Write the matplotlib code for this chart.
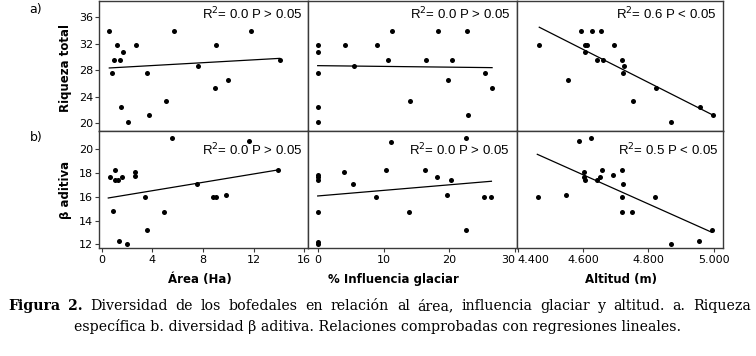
import matplotlib
matplotlib.use("Agg")
import matplotlib.pyplot as plt

# ---- data ----
# row a) riqueza total
area_a_x = [0.60, 1.18, 2.73, 1.71, 1.00, 1.42, 5.69, 0.84, 3.58, 5.06, 1.52, 3.71, 2.10,
            11.79, 9.03, 7.63, 14.06, 9.98, 8.93]
area_a_y = [33.9, 31.8, 31.8, 30.7, 29.6, 29.6, 33.9, 27.6, 27.6, 23.3, 22.4, 21.3, 20.2,
            33.9, 31.8, 28.6, 29.6, 26.5, 25.4]
glac_a_x = [0, 0, 4.15, 8.97, 0, 5.56, 0, 0, 11.34, 18.33, 22.69, 10.64, 16.46, 20.36,
            25.38, 19.8, 26.49, 14.03, 22.8]
glac_a_y = [31.8, 30.7, 31.8, 31.8, 27.6, 28.6, 22.4, 20.2, 33.9, 33.9, 33.9, 29.6, 29.6,
            29.6, 27.6, 26.5, 25.4, 23.3, 21.3]
alt_a_x = [4466, 4593, 4627, 4655, 4605, 4611, 4607, 4644, 4662, 4696, 4720, 4726, 4723,
           4553, 4824, 4754, 4958, 4999, 4870]
alt_a_y = [31.8, 33.9, 33.9, 33.9, 31.8, 31.8, 30.7, 29.6, 29.6, 31.8, 29.6, 28.7, 27.6,
           26.5, 25.4, 23.3, 22.4, 21.3, 20.2]

# row b) beta aditiva
area_b_x = [0.65, 1.05, 1.05, 1.31, 1.58, 2.61, 2.61, 0.87, 3.44, 4.92, 3.58, 1.39, 2.00,
            5.55, 7.55, 13.90, 8.77, 9.00, 9.84, 11.66]
area_b_y = [17.69, 18.28, 17.41, 17.41, 17.64, 18.11, 17.75, 14.78, 15.98, 14.72, 13.23,
            12.28, 12.03, 20.95, 17.05, 18.26, 16.0, 16.0, 16.15, 20.7]
glac_b_x = [0, 0, 0, 0, 0, 0, 4.0, 5.32, 8.86, 11.1, 10.44, 16.3, 18.2, 20.2, 19.7, 22.5,
            13.9, 22.6, 25.2, 26.3]
glac_b_y = [17.84, 17.64, 17.41, 14.75, 12.22, 12.03, 18.11, 17.08, 16.0, 20.64, 18.26,
            18.26, 17.67, 17.41, 16.15, 20.95, 14.75, 13.23, 16.0, 16.0]
alt_b_x = [4463, 4548, 4589, 4624, 4603, 4603, 4606, 4642, 4652, 4658, 4693, 4719, 4723,
           4720, 4720, 4751, 4821, 4868, 4955, 4996]
alt_b_y = [16.0, 16.15, 20.67, 20.98, 18.11, 17.69, 17.41, 17.41, 17.69, 18.26, 17.81,
           18.26, 17.08, 16.0, 14.75, 14.75, 16.0, 12.03, 12.25, 13.23]

# fitted lines (end points)
fit_area_a = ([0.6, 14.06], [28.35, 29.8])
fit_glac_a = ([0, 26.5], [28.7, 28.4])
fit_alt_a = ([4466, 4999], [34.5, 21.2])
fit_area_b = ([0.52, 13.9], [15.9, 18.26])
fit_glac_b = ([0, 26.4], [16.07, 17.31])
fit_alt_b = ([4460, 4994], [19.58, 13.01])

stats_a = ["R$^2$= 0.0 P > 0.05", "R$^2$= 0.0 P > 0.05", "R$^2$= 0.6 P < 0.05"]
stats_b = ["R$^2$= 0.0 P > 0.05", "R$^2$= 0.0 P > 0.05", "R$^2$= 0.5 P < 0.05"]

W, H = 756, 356
fig = plt.figure(figsize=(W / 100, H / 100), dpi=100)

col_px = [(99.3, 307.7), (307.7, 516.5), (516.5, 723.3)]
row_px = [(1.0, 130.7), (130.7, 248.3)]
xlims = [(-0.19, 16.27), (-1.52, 30.21), (4396.3, 5029.3)]
ylims = [(18.88, 38.46), (11.66, 21.57)]

panels = [
    [(area_a_x, area_a_y, fit_area_a), (glac_a_x, glac_a_y, fit_glac_a), (alt_a_x, alt_a_y, fit_alt_a)],
    [(area_b_x, area_b_y, fit_area_b), (glac_b_x, glac_b_y, fit_glac_b), (alt_b_x, alt_b_y, fit_alt_b)],
]
stats = [stats_a, stats_b]
stat_y = [14, 150]
stat_right = [[302.7, 511, 716.7], [302.7, 510, 719]]

spine_c = "#3a3a3a"
for r in range(2):
    for c in range(3):
        x0, x1 = col_px[c]
        y0, y1 = row_px[r]
        ax = fig.add_axes([x0 / W, 1 - y1 / H, (x1 - x0) / W, (y1 - y0) / H])
        px, py, fit = panels[r][c]
        ax.scatter(px, py, s=13, color="black", zorder=3, linewidths=0)
        ax.plot(fit[0], fit[1], color="black", lw=0.9)
        ax.set_xlim(*xlims[c])
        ax.set_ylim(*ylims[r])
        for s in ax.spines.values():
            s.set_color(spine_c)
            s.set_linewidth(1.0)
        ax.tick_params(direction="out", length=3, width=0.8, color=spine_c,
                       labelsize=8, pad=1.5)
        if c == 0:
            if r == 0:
                ax.set_yticks([20, 24, 28, 32, 36])
            else:
                ax.set_yticks([12, 14, 16, 18, 20])
        else:
            ax.set_yticks([])
        if r == 1:
            if c == 0:
                ax.set_xticks([0, 4, 8, 12, 16])
            elif c == 1:
                ax.set_xticks([0, 10, 20, 30])
                ax.get_xticklabels()[-1].set_horizontalalignment("right")
            else:
                ax.set_xticks([4400, 4600, 4800, 5000])
                ax.set_xticklabels(["4.400", "4.600", "4.800", "5.000"])
                ax.get_xticklabels()[0].set_horizontalalignment("left")
        else:
            ax.set_xticks([])
        ax.text(stat_right[r][c] / W, 1 - stat_y[r] / H, stats[r][c], transform=fig.transFigure,
                ha="right", va="center", fontsize=9.5, family="Liberation Sans")

# axis titles
fig.text(65 / W, 1 - 68 / H, "Riqueza total", rotation=90, ha="center", va="center",
         fontsize=8.5, fontweight="bold")
fig.text(65 / W, 1 - 190 / H, "β aditiva", rotation=90, ha="center", va="center",
         fontsize=8.5, fontweight="bold")
fig.text(200 / W, 1 - 279 / H, "Área (Ha)", ha="center", va="center", fontsize=8.5, fontweight="bold")
fig.text(393 / W, 1 - 279 / H, "% Influencia glaciar", ha="center", va="center", fontsize=8.5,
         fontweight="bold")
fig.text(621 / W, 1 - 279 / H, "Altitud (m)", ha="center", va="center", fontsize=8.5, fontweight="bold")
fig.text(36 / W, 1 - 9 / H, "a)", ha="center", va="center", fontsize=9)
fig.text(36 / W, 1 - 138 / H, "b)", ha="center", va="center", fontsize=9)

# caption: first line justified, second line centred
cap_font = dict(family="DejaVu Serif", fontsize=10.2)
renderer = fig.canvas.get_renderer()
line1 = ("Diversidad de los bofedales en relación al área, influencia glaciar y "
         "altitud. a. Riqueza").split()
words = [("Figura", "bold"), ("2.", "bold")] + [(w, "normal") for w in line1]
texts = [fig.text(0, 1 - 306 / H, w, va="center", fontweight=fw, **cap_font) for w, fw in words]
widths = [t.get_window_extent(renderer).width for t in texts]
left, right = 8, 751
gap = (right - left - sum(widths)) / (len(texts) - 1)
x = left
for t, w in zip(texts, widths):
    t.set_x(x / W)
    x += w + gap
fig.text(0.5, 1 - 327 / H, "específica b. diversidad β aditiva. Relaciones comprobadas con "
         "regresiones lineales.", ha="center", va="center", **cap_font)

fig.savefig("out.png", dpi=100)
